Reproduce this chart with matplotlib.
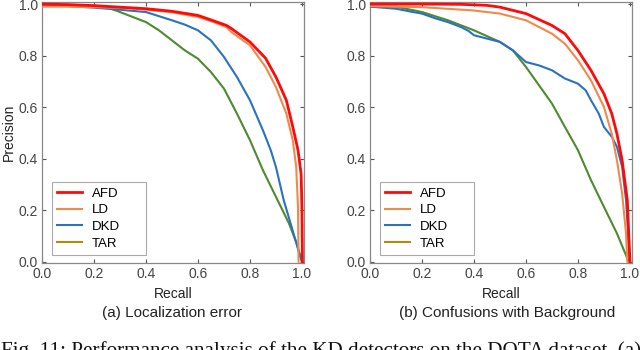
import matplotlib
matplotlib.use("Agg")
import matplotlib.pyplot as plt
from matplotlib.lines import Line2D

# (a) Localization error -- recall / precision samples
loc_afd_r = [0.0, 0.1, 0.2, 0.3, 0.4, 0.5, 0.6, 0.66, 0.71, 0.73, 0.8, 0.86, 0.9, 0.94, 0.965, 0.985, 0.997, 1.0, 1.002]
loc_afd_p = [1.0, 0.998, 0.994, 0.988, 0.982, 0.972, 0.956, 0.935, 0.917, 0.904, 0.853, 0.79, 0.717, 0.627, 0.523, 0.433, 0.34, 0.21, 0.0]
loc_ld_r = [0.0, 0.1, 0.2, 0.3, 0.4, 0.5, 0.6, 0.66, 0.71, 0.73, 0.8, 0.86, 0.9, 0.94, 0.965, 0.978, 0.985, 0.987]
loc_ld_p = [0.99, 0.99, 0.988, 0.985, 0.978, 0.968, 0.95, 0.93, 0.91, 0.89, 0.84, 0.756, 0.678, 0.575, 0.47, 0.368, 0.21, 0.0]
loc_dkd_r = [0.0, 0.1, 0.2, 0.3, 0.4, 0.5, 0.55, 0.6, 0.65, 0.7, 0.75, 0.8, 0.85, 0.88, 0.9, 0.93, 0.96, 0.99, 1.0]
loc_dkd_p = [0.995, 0.992, 0.986, 0.978, 0.969, 0.937, 0.92, 0.898, 0.859, 0.795, 0.717, 0.627, 0.51, 0.433, 0.368, 0.239, 0.136, 0.032, 0.0]
loc_tar_r = [0.0, 0.1, 0.2, 0.25, 0.3, 0.4, 0.45, 0.5, 0.55, 0.6, 0.65, 0.7, 0.75, 0.8, 0.85, 0.9, 0.95, 0.98, 1.0]
loc_tar_p = [0.995, 0.994, 0.992, 0.988, 0.969, 0.93, 0.898, 0.859, 0.82, 0.788, 0.736, 0.672, 0.575, 0.472, 0.355, 0.252, 0.149, 0.071, 0.0]

# (b) Confusions with Background
bg_afd_r = [0.0, 0.1, 0.2, 0.35, 0.45, 0.5, 0.6, 0.7, 0.75, 0.8, 0.85, 0.9, 0.93, 0.95, 0.97, 0.99, 1.0]
bg_afd_p = [1.0, 1.0, 1.0, 0.999, 0.995, 0.988, 0.963, 0.917, 0.885, 0.82, 0.743, 0.652, 0.575, 0.497, 0.394, 0.239, 0.0]
bg_ld_r = [0.0, 0.2, 0.4, 0.5, 0.6, 0.7, 0.75, 0.8, 0.85, 0.9, 0.93, 0.95, 0.97, 0.985, 0.99]
bg_ld_p = [0.992, 0.988, 0.975, 0.963, 0.937, 0.885, 0.846, 0.782, 0.704, 0.601, 0.497, 0.394, 0.265, 0.11, 0.0]
bg_dkd_r = [0.0, 0.1, 0.15, 0.2, 0.25, 0.3, 0.35, 0.38, 0.4, 0.45, 0.5, 0.55, 0.6, 0.65, 0.7, 0.75, 0.8, 0.83, 0.85, 0.88, 0.9, 0.93, 0.95, 0.97, 0.985, 1.0]
bg_dkd_p = [0.99, 0.982, 0.972, 0.963, 0.945, 0.93, 0.911, 0.895, 0.879, 0.866, 0.853, 0.82, 0.775, 0.762, 0.743, 0.711, 0.691, 0.665, 0.627, 0.575, 0.523, 0.485, 0.446, 0.368, 0.239, 0.0]
bg_tar_r = [0.0, 0.1, 0.2, 0.3, 0.4, 0.5, 0.55, 0.6, 0.65, 0.7, 0.75, 0.8, 0.85, 0.9, 0.95, 0.99, 1.0]
bg_tar_p = [0.99, 0.99, 0.969, 0.937, 0.898, 0.853, 0.82, 0.756, 0.685, 0.614, 0.523, 0.433, 0.317, 0.213, 0.11, 0.013, 0.0]

labels = ["AFD", "LD", "DKD", "TAR"]
line_colors = ["#ff0a0a", "#f0894a", "#2a72c0", "#4e8a30"]
legend_colors = ["#ff0a0a", "#f0894a", "#2a72c0", "#b8860b"]
widths = [2.0, 1.5, 1.5, 1.5]
ticks = [0.0, 0.2, 0.4, 0.6, 0.8, 1.0]

plt.rcParams["font.family"] = ["Liberation Sans", "DejaVu Sans"]

fig = plt.figure(figsize=(6.4, 3.5), dpi=100)
ax1 = fig.add_axes([42 / 640, 1 - 263 / 350, 262 / 640, 261 / 350])
ax2 = fig.add_axes([370 / 640, 1 - 263 / 350, 262 / 640, 261 / 350])

panels = [
    (ax1, [(loc_afd_r, loc_afd_p), (loc_ld_r, loc_ld_p), (loc_dkd_r, loc_dkd_p), (loc_tar_r, loc_tar_p)]),
    (ax2, [(bg_afd_r, bg_afd_p), (bg_ld_r, bg_ld_p), (bg_dkd_r, bg_dkd_p), (bg_tar_r, bg_tar_p)]),
]

for ax, curves in panels:
    # draw back-to-front so AFD stays on top
    for i in [3, 2, 1, 0]:
        r, p = curves[i]
        ax.plot(r, p, color=line_colors[i], lw=widths[i], zorder=3 + (3 - i))
    ax.set_xlim(0, 1.008)
    ax.set_ylim(-0.005, 1.008)
    ax.set_xticks(ticks)
    ax.set_yticks(ticks)
    ax.set_xticklabels(["%.1f" % t for t in ticks])
    ax.set_yticklabels(["%.1f" % t for t in ticks])
    ax.tick_params(direction="in", top=True, right=True, length=3, width=0.8,
                   colors="#555555", labelcolor="#444444", labelsize=10, pad=3)
    for s in ax.spines.values():
        s.set_color("#888888")
        s.set_linewidth(0.9)
    ax.set_xlabel("Recall", fontsize=10, color="#222222", labelpad=4)
    handles = [Line2D([0], [0], color=legend_colors[i], lw=widths[i]) for i in range(4)]
    leg = ax.legend(handles, labels, loc="lower left", mode="expand",
                    bbox_to_anchor=(0.038, 0.031, 0.359, 0.3), borderaxespad=0,
                    fontsize=9.5, fancybox=False, framealpha=1, edgecolor="#aaaaaa",
                    handlelength=1.9, handletextpad=0.7, labelspacing=0.33,
                    borderpad=0.4)
    leg.get_frame().set_linewidth(0.8)

ax1.set_ylabel("Precision", fontsize=10, color="#222222", labelpad=2)

fig.text(172 / 640, 1 - 313 / 350, "(a) Localization error", ha="center", va="center",
         fontsize=11, color="#222222")
fig.text(507 / 640, 1 - 313 / 350, "(b) Confusions with Background", ha="center", va="center",
         fontsize=11, color="#222222")
fig.text(0.002, 1 - 341 / 350, "Fig. 11: Performance analysis of the KD detectors on the DOTA dataset. (a)",
         ha="left", va="top", fontsize=15.2, family=["Liberation Serif", "DejaVu Serif"], color="#111111")

fig.savefig("out.png", dpi=100)
